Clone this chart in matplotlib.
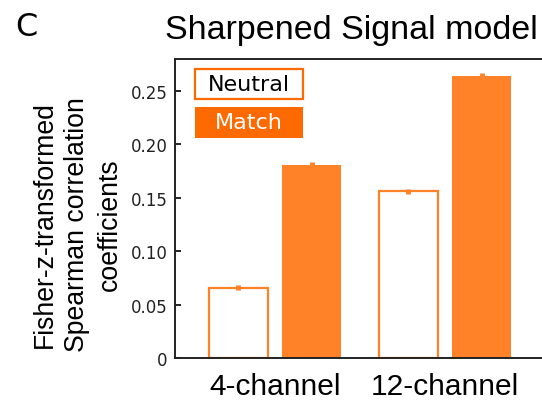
import matplotlib
matplotlib.use("Agg")
import matplotlib.pyplot as plt
from matplotlib.patches import Rectangle
import numpy as np

# Fisher-z Spearman coefficients per channel setup
groups = ["4-channel", "12-channel"]
neutral_vals = [0.066, 0.156]
neutral_err = [0.0025, 0.0025]
match_vals = [0.181, 0.264]
match_err = [0.0025, 0.0025]
yticks = [0, 0.05, 0.10, 0.15, 0.20, 0.25]
ytick_labels = ["0", "0.05", "0.10", "0.15", "0.20", "0.25"]

BAR = "#ff8228"
LEG = "#ff6a00"
ARIAL = "Liberation Sans"
VERDANA = "DejaVu Sans"

fig = plt.figure(figsize=(5.42, 4.06), dpi=100)
ax = fig.add_axes([175 / 542, 1 - 359 / 406, 385 / 542, 299 / 406])

x = np.arange(1, len(groups) + 1)
off = 0.216
width = 0.345
ax.bar(x - off, neutral_vals, width, facecolor="white", edgecolor=BAR, linewidth=1.6, zorder=2)
ax.bar(x + off, match_vals, width, color=BAR, edgecolor="none", zorder=2)
ax.errorbar(x - off, neutral_vals, yerr=neutral_err, fmt="none", ecolor=BAR, elinewidth=3.5, zorder=3)
ax.errorbar(x + off, match_vals, yerr=match_err, fmt="none", ecolor=BAR, elinewidth=3.5, zorder=3)

ax.set_xlim(1 - 100 / 170, 2 + 115 / 170)
ax.set_ylim(0, 0.28)
ax.set_yticks(yticks)
ax.set_yticklabels(ytick_labels, fontsize=12, family=VERDANA, color="#222222")
ax.set_xticks(x)
ax.set_xticklabels(groups, fontsize=21.5, family=ARIAL)
ax.tick_params(axis="y", direction="in", length=4, width=1.2, pad=5.5)
ax.tick_params(axis="x", length=0, pad=10)
for side in ["left", "bottom", "top"]:
    ax.spines[side].set_linewidth(1.4)
    ax.spines[side].set_color("#222222")
ax.spines["right"].set_visible(False)

# legend boxes
ax.add_patch(Rectangle((0.052, 0.866), 0.2805, 0.1003, transform=ax.transAxes,
                       facecolor="white", edgecolor=LEG, linewidth=1.6, zorder=4))
ax.text(0.052 + 0.2805 / 2, 0.866 + 0.1003 / 2, "Neutral", transform=ax.transAxes,
        ha="center", va="center", fontsize=16, family=VERDANA, zorder=5)
ax.add_patch(Rectangle((0.052, 0.736), 0.2805, 0.1037, transform=ax.transAxes,
                       facecolor=LEG, edgecolor="none", zorder=4))
ax.text(0.052 + 0.2805 / 2, 0.736 + 0.1037 / 2, "Match", transform=ax.transAxes,
        ha="center", va="center", fontsize=16, family=VERDANA, color="white", zorder=5)

fig.text(351 / 542, 1 - 30 / 406, "Sharpened Signal model", ha="center", va="center",
         fontsize=24.5, family=ARIAL)
fig.text(26 / 542, 1 - 27 / 406, "C", ha="center", va="center", fontsize=23, family=VERDANA)
fig.text(77 / 542, 1 - 225 / 406,
         "Fisher-z-transformed\nSpearman correlation\ncoefficients",
         rotation=90, ha="center", va="center", fontsize=19.2, family=ARIAL,
         linespacing=1.32, multialignment="center")

fig.savefig("out.png", dpi=100)
